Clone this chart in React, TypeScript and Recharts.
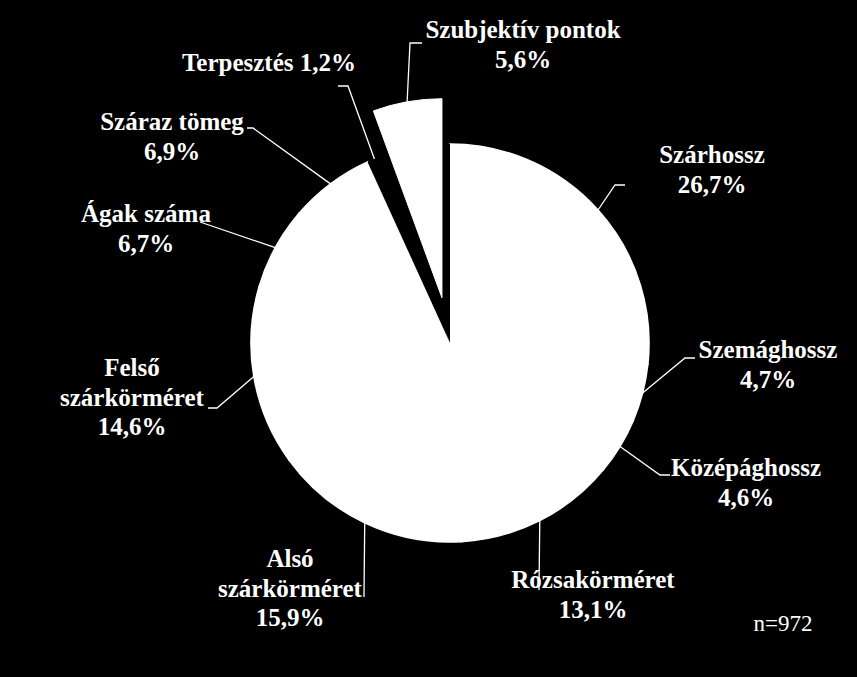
import React from "react";
import { PieChart, Pie, Cell } from "recharts";

// slice order: clockwise from 12 o'clock
const names = [
  "Szárhossz",
  "Szemághossz",
  "Középághossz",
  "Rózsakörméret",
  "Alsó szárkörméret",
  "Felső szárkörméret",
  "Ágak száma",
  "Száraz tömeg",
  "Terpesztés",
  "Szubjektív pontok",
];
const shares = [26.7, 4.7, 4.6, 13.1, 15.9, 14.6, 6.7, 6.9, 1.2, 5.6];
const percentLabels = ["26,7%", "4,7%", "4,6%", "13,1%", "15,9%", "14,6%", "6,7%", "6,9%", "1,2%", "5,6%"];
const labelLines = [
  ["Szárhossz", "26,7%"],
  ["Szemághossz", "4,7%"],
  ["Középághossz", "4,6%"],
  ["Rózsakörméret", "13,1%"],
  ["Alsó", "szárkörméret", "15,9%"],
  ["Felső", "szárkörméret", "14,6%"],
  ["Ágak száma", "6,7%"],
  ["Száraz tömeg", "6,9%"],
  ["Terpesztés 1,2%"],
  ["Szubjektív pontok", "5,6%"],
];
const sampleNote = "n=972";

const explodedIndex = 9;
const hiddenIndex = 8;

// layout: label text centre / first baseline, and leader bend + end points
const labelLayout = [
  { x: 712, y: 163, path: [[615, 185], [625, 185]] },
  { x: 768, y: 358, path: [[685, 358], [695, 358]] },
  { x: 746, y: 476, path: [[660, 475], [670, 475]] },
  { x: 593, y: 588, path: [[539, 590]] },
  { x: 290, y: 567, path: [[364, 597]] },
  { x: 132, y: 376, path: [[217, 408], [208, 408]] },
  { x: 146, y: 222, path: [[200, 222]] },
  { x: 172, y: 130, path: [[253, 128], [247, 128]] },
  { x: 269, y: 71, path: [[348, 86], [338, 86]] },
  { x: 523, y: 38, path: [[410, 43], [422, 43]] },
];

const data = names.map((name, i) => ({ name, value: shares[i], label: percentLabels[i] }));

const CX = 450;
const CY = 343;
const R = 199;
const EXPLODE = 46;
const RAD = Math.PI / 180;

const total = shares.reduce((a, b) => a + b, 0);
const before = shares.slice(0, explodedIndex).reduce((a, b) => a + b, 0);
// recharts angle (deg, counter-clockwise from 3 o'clock)
const explodedMid = 90 - ((before + shares[explodedIndex] / 2) / total) * 360;
const explodeDx = EXPLODE * Math.cos(explodedMid * RAD);
const explodeDy = -EXPLODE * Math.sin(explodedMid * RAD);

const fontFamily = "'Times New Roman', 'Liberation Serif', 'DejaVu Serif', serif";

const renderLabel = (props: any) => {
  const { cx, cy, midAngle, outerRadius, index } = props;
  const ox = index === explodedIndex ? explodeDx : 0;
  const oy = index === explodedIndex ? explodeDy : 0;
  const sx = cx + ox + outerRadius * Math.cos(-midAngle * RAD);
  const sy = cy + oy + outerRadius * Math.sin(-midAngle * RAD);
  const lay = labelLayout[index];
  const pts = [[sx, sy], ...lay.path].map((p) => p.join(",")).join(" ");
  return (
    <g key={`lbl-${index}`}>
      <polyline points={pts} fill="none" stroke="#fff" strokeWidth={1.3} />
      {labelLines[index].map((line, j) => (
        <text
          key={j}
          x={lay.x}
          y={lay.y + j * 29.5}
          textAnchor="middle"
          fill="#fff"
          style={{ fontFamily, fontWeight: 700, fontSize: 25 }}
        >
          {line}
        </text>
      ))}
    </g>
  );
};

export default function App() {
  return (
    <div style={{ position: "fixed", left: 0, top: 0, width: 857, height: 677, background: "#000" }}>
      <PieChart width={857} height={677} margin={{ top: 0, right: 0, bottom: 0, left: 0 }}>
        <Pie
          data={data}
          dataKey="value"
          nameKey="name"
          cx={CX}
          cy={CY}
          outerRadius={R}
          startAngle={90}
          endAngle={-270}
          label={renderLabel}
          labelLine={false}
          isAnimationActive={false}
        >
          {data.map((d, i) => {
            const dark = i === hiddenIndex || i === explodedIndex;
            return (
              <Cell
                key={d.name}
                fill={dark ? "#000" : "#fff"}
                stroke={dark ? "none" : "#fff"}
                strokeWidth={1.6}
              />
            );
          })}
        </Pie>
        <Pie
          data={data}
          dataKey="value"
          nameKey="name"
          cx={CX + explodeDx}
          cy={CY + explodeDy}
          outerRadius={R}
          startAngle={90}
          endAngle={-270}
          labelLine={false}
          isAnimationActive={false}
        >
          {data.map((d, i) => (
            <Cell
              key={d.name}
              fill={i === explodedIndex ? "#fff" : "none"}
              stroke={i === explodedIndex ? "#fff" : "none"}
            />
          ))}
        </Pie>
        <text x={783} y={631} textAnchor="middle" fill="#fff" style={{ fontFamily, fontSize: 23 }}>
          {sampleNote}
        </text>
      </PieChart>
    </div>
  );
}
